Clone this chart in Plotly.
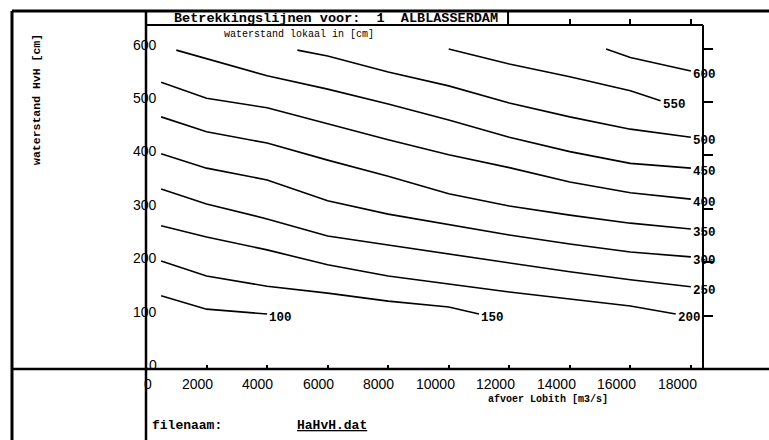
import plotly.graph_objects as go

# ---- data (afvoer Lobith [m3/s] -> waterstand HvH [cm]) ----
levels = [100, 150, 200, 250, 300, 350, 400, 450, 500, 550, 600]

q_100 = [500, 2000, 4000]
h_100 = [137, 112, 103]

q_150 = [500, 2000, 4000, 6000, 8000, 10000, 11000]
h_150 = [202, 174, 155, 142, 127, 116, 103]

q_200 = [500, 2000, 4000, 6000, 8000, 10000, 12000, 14000, 16000, 17500]
h_200 = [268, 247, 223, 195, 174, 159, 144, 131, 118, 103]

q_250 = [500, 2000, 4000, 6000, 8000, 10000, 12000, 14000, 16000, 18000]
h_250 = [337, 309, 281, 249, 232, 215, 198, 182, 167, 154]

q_300 = [500, 2000, 4000, 6000, 8000, 10000, 12000, 14000, 16000, 18000]
h_300 = [403, 376, 354, 315, 290, 270, 251, 234, 219, 210]

q_350 = [500, 2000, 4000, 6000, 8000, 10000, 12000, 14000, 16000, 18000]
h_350 = [472, 444, 423, 391, 361, 328, 305, 288, 273, 262]

q_400 = [500, 2000, 4000, 6000, 8000, 10000, 12000, 14000, 16000, 18000]
h_400 = [537, 507, 489, 459, 429, 401, 377, 350, 330, 318]

q_450 = [1000, 2000, 4000, 6000, 8000, 10000, 12000, 14000, 16000, 18000]
h_450 = [597, 581, 549, 524, 496, 466, 434, 407, 385, 376]

q_500 = [5000, 6000, 8000, 10000, 12000, 14000, 16000, 18000]
h_500 = [597, 586, 556, 530, 498, 472, 449, 434]

q_550 = [10000, 12000, 14000, 16000, 17000]
h_550 = [599, 571, 547, 521, 502]

q_600 = [15200, 16000, 18000]
h_600 = [599, 583, 558]

curves_q = [q_100, q_150, q_200, q_250, q_300, q_350, q_400, q_450, q_500, q_550, q_600]
curves_h = [h_100, h_150, h_200, h_250, h_300, h_350, h_400, h_450, h_500, h_550, h_600]

x_ticks = [0, 2000, 4000, 6000, 8000, 10000, 12000, 14000, 16000, 18000]
y_ticks = [0, 100, 200, 300, 400, 500, 600]
top_ticks = [14000, 16000, 18000]

title_text = "Betrekkingslijnen voor:  1  ALBLASSERDAM"
subtitle_text = "waterstand lokaal in [cm]"
ytitle_text = "waterstand HvH [cm]"
xtitle_text = "afvoer Lobith [m3/s]"
file_label = "filenaam:"
file_name = "HaHvH.dat"

X_RANGE = [0, 18400]
Y_RANGE = [0, 644]

MONO = "Liberation Mono, DejaVu Sans Mono, monospace"
SANS = "Liberation Sans, Arial, sans-serif"

fig = go.Figure()

for lev, q, h in zip(levels, curves_q, curves_h):
    fig.add_trace(go.Scatter(x=q, y=h, mode="lines",
                             line=dict(color="black", width=1.6),
                             showlegend=False, hoverinfo="skip"))
    fig.add_annotation(x=q[-1], y=h[-1], text=str(lev), xanchor="left",
                       yanchor="middle", yshift=-4, showarrow=False,
                       font=dict(family=MONO, size=12.5, color="black", weight="bold"))

# empty traces so the mirror axes (top ticks / right ticks) exist
fig.add_trace(go.Scatter(x=[], y=[], xaxis="x", yaxis="y2", showlegend=False))
fig.add_trace(go.Scatter(x=[], y=[], xaxis="x2", yaxis="y", showlegend=False))

# y tick labels (right aligned, crossing the axis line)
for v in y_ticks:
    fig.add_annotation(xref="paper", x=0.0233, yref="y", y=v, text=str(v),
                       xanchor="right", yanchor="middle", yshift=4, showarrow=False,
                       font=dict(family=SANS, size=14, color="black"))

# x tick labels (right aligned just past the tick)
for v in x_ticks:
    fig.add_annotation(xref="x", x=v, yref="paper", y=0, text=str(v),
                       xanchor="right", yanchor="middle", xshift=8, yshift=-15,
                       showarrow=False, font=dict(family=SANS, size=14, color="black"))

# texts
fig.add_annotation(xref="paper", yref="paper", x=0.0467, y=1.0203, text=title_text.replace(" ", "&nbsp;"),
                   xanchor="left", yanchor="middle", showarrow=False,
                   font=dict(family=MONO, size=13.5, color="black", weight="bold"))
fig.add_annotation(xref="paper", yref="paper", x=0.1364, y=0.971, text=subtitle_text,
                   xanchor="left", yanchor="middle", showarrow=False,
                   font=dict(family=MONO, size=10, color="black"))
fig.add_annotation(xref="paper", yref="paper", x=-0.1957, y=0.785, text=ytitle_text,
                   textangle=-90, xanchor="center", yanchor="middle", showarrow=False,
                   font=dict(family=MONO, size=11.5, color="black", weight="bold"))
fig.add_annotation(xref="paper", yref="paper", x=0.7217, y=-0.0895, text=xtitle_text,
                   xanchor="center", yanchor="middle", showarrow=False,
                   font=dict(family=MONO, size=10, color="black", weight="bold"))
fig.add_annotation(xref="paper", yref="paper", x=0.0072, y=-0.1628, text=file_label,
                   xanchor="left", yanchor="middle", showarrow=False,
                   font=dict(family=MONO, size=13, color="black", weight="bold"))
fig.add_annotation(xref="paper", yref="paper", x=0.2675, y=-0.1628, text="<u>" + file_name + "</u>",
                   xanchor="left", yanchor="middle", showarrow=False,
                   font=dict(family=MONO, size=13, color="black", weight="bold"))

# frame lines (paper coordinates)
def pline(x0, y0, x1, y1, w):
    fig.add_shape(type="line", xref="paper", yref="paper", x0=x0, y0=y0, x1=x1, y1=y1,
                  line=dict(color="black", width=w), layer="above")

pline(-0.2406, 1.0407, 1.1185, 1.0407, 3)     # outer top
pline(-0.2406, 1.0407, -0.2406, -0.2064, 3)   # outer left
pline(0, 1.0407, 0, -0.2064, 2.5)             # inner vertical divider / y axis
pline(-0.2406, 0, 1.1185, 0, 2.5)             # x axis / horizontal divider
pline(0, 1.0, 1.0, 1.0, 2)                    # top of plot / bottom of title box
pline(0.65, 1.0407, 0.65, 1.0, 2)             # right edge of title box
pline(1.0, 0, 1.0, 1.0, 2)                    # right axis

fig.update_layout(
    width=769, height=440,
    margin=dict(l=146, r=66, t=25, b=71),
    paper_bgcolor="white", plot_bgcolor="white",
    showlegend=False,
    xaxis=dict(range=X_RANGE, showgrid=False, zeroline=False, showline=False,
               ticks="inside", ticklen=4, tickwidth=1.5, tickcolor="black",
               tickvals=x_ticks, showticklabels=False),
    yaxis=dict(range=Y_RANGE, showgrid=False, zeroline=False, showline=False,
               ticks="", showticklabels=False),
    yaxis2=dict(range=Y_RANGE, overlaying="y", side="right", anchor="x",
                showgrid=False, zeroline=False, showline=False,
                ticks="outside", ticklen=9, tickwidth=1.5, tickcolor="black",
                tickvals=y_ticks[1:], showticklabels=False),
    xaxis2=dict(range=X_RANGE, overlaying="x", side="top", anchor="y",
                showgrid=False, zeroline=False, showline=False,
                ticks="outside", ticklen=5, tickwidth=1.5, tickcolor="black",
                tickvals=top_ticks, showticklabels=False),
)

fig.write_html("out.html", config={"displayModeBar": False},
               post_script="document.body.style.margin='0';document.body.style.overflow='hidden';")
